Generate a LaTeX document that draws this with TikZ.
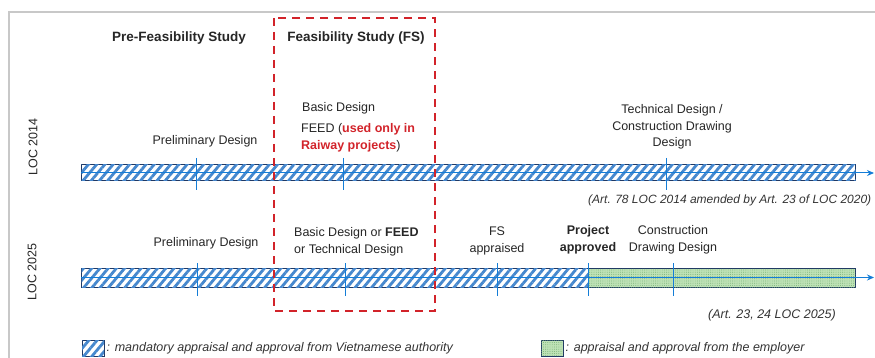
\documentclass[tikz,border=0pt]{standalone}
\usepackage{fontspec}
\setmainfont{Liberation Sans}
\definecolor{hatchblue}{RGB}{70,136,206}
\definecolor{barnavy}{RGB}{31,56,100}
\definecolor{tickblue}{RGB}{20,125,215}
\definecolor{fsred}{RGB}{210,35,42}
\definecolor{employergreen}{RGB}{190,226,182}
\definecolor{dotgreen}{RGB}{110,170,110}
\definecolor{framegray}{RGB}{200,200,200}
\usetikzlibrary{patterns.meta,arrows.meta}

\tikzset{
	lbl/.style={font=\fontsize{12.5}{16.5}\selectfont, text=black!85, inner sep=0pt, align=center},
	phase/.style={font=\fontsize{13.5}{16}\selectfont\bfseries, text=black!85, inner sep=0pt},
	source/.style={font=\fontsize{12.5}{16}\selectfont\itshape, text=black!80, inner sep=0pt},
	hatched/.style={draw=barnavy, line width=1pt, fill=white, inner sep=0pt,
		postaction={pattern={Lines[angle=50,distance=6.3pt,line width=2.8pt]}, pattern color=hatchblue}},
	employer/.style={draw=barnavy, line width=1pt, fill=employergreen, inner sep=0pt,
		postaction={pattern={Dots[distance=2.2pt,radius=0.45pt]}, pattern color=dotgreen}},
	milestone/.style={draw=tickblue, line width=1pt},
	timeline/.style={draw=tickblue, line width=1pt, -{Stealth[length=7pt,width=6pt]}},
	fsbox/.style={draw=fsred, line width=1.8pt, dash pattern=on 8pt off 6pt}
}

\begin{document}
\begin{tikzpicture}[x=1pt,y=-1pt]
	\useasboundingbox (0,0) rectangle (875,358);
	% frame
	\draw[framegray, line width=1.5pt] (9,358) -- (9,12) -- (875,12);

	% phases
	\node[phase] (prefs) at (179,38) {Pre-Feasibility Study};
	\node[phase] (fs) at (356,38) {Feasibility Study (FS)};

	% LOC 2014
	\node[lbl, rotate=90] (loc14) at (33,147) {LOC 2014};
	\node[hatched, minimum width=774pt, minimum height=16pt, anchor=west] (bar14) at (81,173) {};
	\foreach \x in {196,343,666}
		\draw[milestone] (\x,158) -- (\x,190);
	\coordinate (tip14) at (874,173);
	\draw[timeline] (bar14.west) -- (tip14);
	\node[lbl] (prelim14) at (205,141) {Preliminary Design};
	\node[lbl, anchor=west] (basic14) at (302,108) {Basic Design};
	\node[lbl, anchor=west, align=left] (feed14) at (301,138) {FEED (\textcolor{fsred}{\textbf{used only in}}\\\textcolor{fsred}{\textbf{Raiway projects}})};
	\node[lbl] (tech14) at (672,127) {Technical Design /\\Construction Drawing\\Design};
	\node[source, font=\fontsize{12}{16}\selectfont\itshape, anchor=west] (art14) at (588,200) {(Art. 78 LOC 2014 amended by Art. 23 of LOC 2020)};

	% LOC 2025
	\node[lbl, rotate=90] (loc25) at (32,272) {LOC 2025};
	\node[hatched, minimum width=507pt, minimum height=19pt, anchor=west] (bar25) at (81,277.5) {};
	\node[employer, minimum width=267pt, minimum height=19pt, anchor=west] (emp25) at (588,277.5) {};
	\foreach \x in {197,345,497,588,673}
		\draw[milestone] (\x,263) -- (\x,296);
	\coordinate (tip25) at (874,277.5);
	\draw[timeline] (bar25.west) -- (tip25);
	\node[lbl] (prelim25) at (206,243) {Preliminary Design};
	\node[lbl, anchor=west, align=left] (basic25) at (294,242) {Basic Design or \textbf{FEED}\\or Technical Design};
	\node[lbl] (fsapp25) at (497,241) {FS\\appraised};
	\node[lbl, font=\fontsize{12.5}{16.5}\selectfont\bfseries] (proj25) at (588,240) {Project\\approved};
	\node[lbl] (cdd25) at (673,240) {Construction\\Drawing Design};
	\node[source] (art25) at (772,315) {(Art. 23, 24 LOC 2025)};

	% FS box
	\draw[fsbox] (274,18) rectangle (435,311);

	% legend
	\node[hatched, minimum width=22pt, minimum height=16pt] (keyauth) at (93,348) {};
	\node[source, anchor=west] (txtauth) at ([xshift=2pt]keyauth.east) {: mandatory appraisal and approval from Vietnamese authority};
	\node[employer, minimum width=22pt, minimum height=16pt] (keyemp) at (552,348) {};
	\node[source, anchor=west] (txtemp) at ([xshift=2pt]keyemp.east) {: appraisal and approval from the employer};
\end{tikzpicture}
\end{document}
